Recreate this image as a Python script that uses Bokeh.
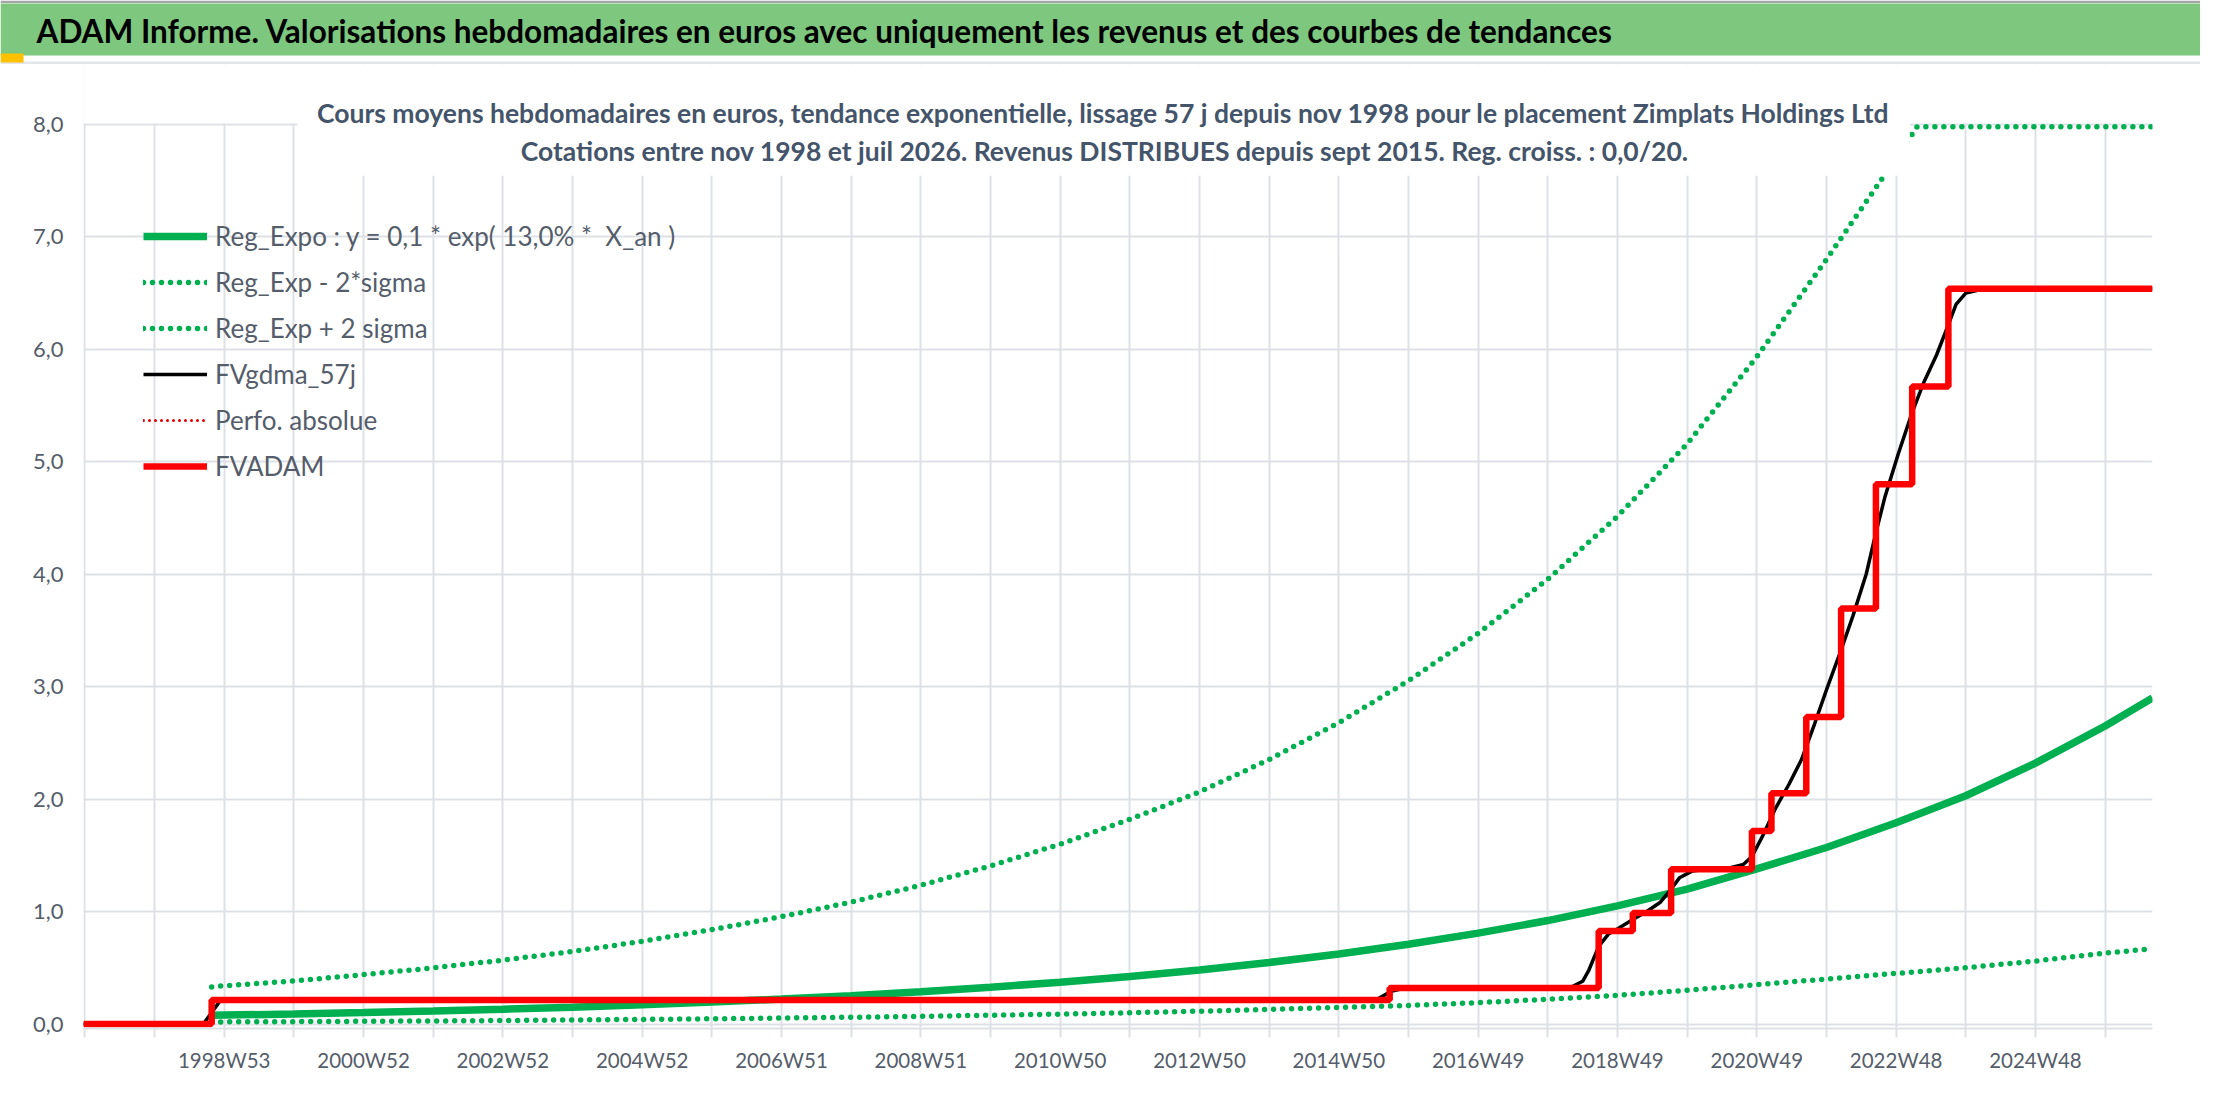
from bokeh.plotting import figure
from bokeh.layouts import column
from bokeh.models import Range1d, FixedTicker, Legend, LegendItem, Label, BoxAnnotation
from bokeh.embed import file_html
from bokeh.resources import INLINE

# annees decimales (courbes de regression)
annees_reg = [1998.82, 1999, 2000, 2001, 2002, 2003, 2004, 2005, 2006, 2007,
              2008, 2009, 2010, 2011, 2012, 2013, 2014, 2015, 2016, 2017,
              2018, 2019, 2020, 2021, 2022, 2023, 2024, 2025, 2026, 2026.68]
reg_expo = [0.077, 0.079, 0.089, 0.102, 0.116, 0.132, 0.150, 0.171, 0.195, 0.222,
            0.252, 0.287, 0.327, 0.372, 0.423, 0.48, 0.547, 0.623, 0.71, 0.808,
            0.92, 1.05, 1.20, 1.38, 1.57, 1.79, 2.03, 2.32, 2.65, 2.90]
reg_moins = [0.018, 0.019, 0.021, 0.024, 0.027, 0.031, 0.036, 0.041, 0.046, 0.053,
             0.06, 0.068, 0.078, 0.088, 0.10, 0.114, 0.13, 0.148, 0.165, 0.19,
             0.22, 0.255, 0.30, 0.35, 0.40, 0.45, 0.50, 0.56, 0.63, 0.67]

annees_plus = [1998.82, 1999, 2000, 2001, 2002, 2003, 2004, 2005, 2006, 2007,
               2008, 2009, 2010, 2011, 2012, 2013, 2014, 2015, 2016, 2017,
               2018, 2019, 2020, 2021, 2022, 2023, 2023.3, 2024, 2025, 2026, 2026.68]
reg_plus = [0.33, 0.34, 0.383, 0.439, 0.499, 0.568, 0.645, 0.735, 0.839, 0.955,
            1.084, 1.234, 1.406, 1.60, 1.82, 2.064, 2.352, 2.679, 3.053, 3.474,
            3.956, 4.515, 5.16, 5.934, 6.80, 7.70, 7.98, 7.98, 7.98, 7.98, 7.98]

# FVADAM : dates des paliers et niveaux
fvadam_t = [1996.98, 1998.82, 2015.73, 2018.73, 2019.22, 2019.77, 2020.93,
            2021.21, 2021.71, 2022.21, 2022.71, 2023.23, 2023.75, 2026.68]
fvadam_v = [0.0, 0.213, 0.32, 0.827, 0.987, 1.376, 1.717,
            2.053, 2.731, 3.696, 4.80, 5.669, 6.539, 6.539]

# FVgdma_57j : moyenne lissee
gdma_t = [1996.98, 1998.70, 1998.95, 2015.45, 2015.55, 2015.75, 2015.95, 2018.31,
          2018.50, 2018.59, 2018.73, 2018.87, 2019.01, 2019.22, 2019.42, 2019.61,
          2019.77, 2019.89, 2020.07, 2020.35, 2020.62, 2020.81, 2020.93, 2021.09,
          2021.27, 2021.46, 2021.64, 2021.83, 2022.01, 2022.20, 2022.38, 2022.57,
          2022.71, 2022.84, 2023.03, 2023.23, 2023.40, 2023.58, 2023.75, 2023.86,
          2024.0, 2024.23, 2026.68]
gdma_v = [0.0, 0.0, 0.213, 0.213, 0.22, 0.29, 0.32, 0.32,
          0.38, 0.48, 0.69, 0.80, 0.85, 0.93, 1.0, 1.08,
          1.2, 1.30, 1.36, 1.38, 1.39, 1.42, 1.49, 1.68,
          1.92, 2.13, 2.35, 2.67, 2.99, 3.31, 3.63, 4.0,
          4.37, 4.69, 5.07, 5.44, 5.71, 5.95, 6.22, 6.40,
          6.50, 6.535, 6.539]

# Perfo. absolue : cachee sous FVADAM
perfo_t = [1996.98, 1998.82]
perfo_v = [0.0, 0.0]

ticks_x = list(range(1997, 2027))
etiquettes_x = {1999: "1998W53", 2001: "2000W52", 2003: "2002W52", 2005: "2004W52",
                2007: "2006W51", 2009: "2008W51", 2011: "2010W50", 2013: "2012W50",
                2015: "2014W50", 2017: "2016W49", 2019: "2018W49", 2021: "2020W49",
                2023: "2022W48", 2025: "2024W48"}
ticks_y = [0, 1, 2, 3, 4, 5, 6, 7, 8]

titre = "ADAM Informe. Valorisations hebdomadaires en euros avec uniquement les revenus et des courbes de tendances"
sous_titre_1 = "Cours moyens hebdomadaires en euros, tendance exponentielle, lissage 57 j depuis nov 1998 pour le placement Zimplats Holdings Ltd"
sous_titre_2 = "Cotations entre nov 1998 et juil 2026. Revenus DISTRIBUES depuis sept 2015. Reg. croiss. : 0,0/20."

FONT = "Lato"
VERT = "#00B050"
GRIS_GRILLE = "#DDE1E6"
GRIS_TEXTE = "#555D6B"

# bandeau vert du haut (coordonnees en pixels, y vers le haut)
bandeau = figure(width=2200, height=64, output_backend="svg", toolbar_location=None,
                 x_range=Range1d(0, 2200), y_range=Range1d(0, 64),
                 x_axis_location=None, y_axis_location=None,
                 min_border=0, title=None)
bandeau.frame_align = False
bandeau.grid.visible = False
bandeau.outline_line_color = None
bandeau.background_fill_color = "white"
bandeau.border_fill_color = "white"
bandeau.add_layout(BoxAnnotation(bottom=61.5, fill_color="#A6A6A6", fill_alpha=1,
                                 line_color=None))
bandeau.add_layout(BoxAnnotation(bottom=9, top=61, fill_color="#7DC87E",
                                 fill_alpha=1, line_color=None))
bandeau.add_layout(BoxAnnotation(top=3, fill_color="#E3E5E8", fill_alpha=1,
                                 line_color=None))
bandeau.add_layout(BoxAnnotation(left=0, right=23, bottom=2, top=11,
                                 fill_color="#FFC000", fill_alpha=1, line_color=None))
bandeau.add_layout(Label(x=36, y=34, text=titre, text_align="left",
                         text_baseline="middle", text_font=FONT,
                         text_font_style="bold", text_font_size="31.5px",
                         text_color="black"))

p = figure(width=2200, height=1034, title=None, output_backend="svg",
           toolbar_location=None, x_range=Range1d(1996.98, 2026.68),
           y_range=Range1d(-0.04, 8.5336),
           min_border_left=83, min_border_right=48, min_border_top=0,
           min_border_bottom=70)
p.outline_line_color = None
p.background_fill_color = "white"
p.border_fill_color = "white"

p.xgrid.ticker = FixedTicker(ticks=ticks_x)
p.ygrid.ticker = FixedTicker(ticks=ticks_y)
p.grid.grid_line_color = GRIS_GRILLE
p.grid.grid_line_width = 2

p.xaxis.ticker = FixedTicker(ticks=ticks_x)
p.xaxis.major_label_overrides = {t: etiquettes_x.get(t, "") for t in ticks_x}
p.xaxis.axis_line_color = GRIS_GRILLE
p.xaxis.axis_line_width = 2
p.xaxis.major_tick_line_color = GRIS_GRILLE
p.xaxis.major_tick_line_width = 2
p.xaxis.major_tick_out = 9
p.xaxis.major_tick_in = 0
p.xaxis.minor_tick_line_color = None
p.xaxis.major_label_standoff = 10
p.xaxis.major_label_text_font = FONT
p.xaxis.major_label_text_font_size = "20.5px"
p.xaxis.major_label_text_color = GRIS_TEXTE

p.yaxis.ticker = FixedTicker(ticks=ticks_y)
p.yaxis.major_label_overrides = {v: f"{v},0" for v in ticks_y}
p.yaxis.axis_line_color = None
p.yaxis.major_tick_line_color = None
p.yaxis.minor_tick_line_color = None
p.yaxis.major_tick_out = 0
p.yaxis.major_label_standoff = 20
p.yaxis.major_label_text_font = FONT
p.yaxis.major_label_text_font_size = "22px"
p.yaxis.major_label_text_color = GRIS_TEXTE

r_expo = p.line(annees_reg, reg_expo, line_color=VERT, line_width=7.5)
r_moins = p.line(annees_reg, reg_moins, line_color=VERT, line_width=5.5,
                 line_dash="0 9", line_cap="round")
r_plus = p.line(annees_plus, reg_plus, line_color=VERT, line_width=5.5,
                line_dash="0 9", line_cap="round")
r_gdma = p.line(gdma_t, gdma_v, line_color="black", line_width=3.5)
r_perfo = p.line(perfo_t, perfo_v, line_color="#E00000", line_width=3,
                 line_dash="0 6", line_cap="round")
r_fvadam = p.step(fvadam_t, fvadam_v, mode="after", line_color="#FF0000",
                  line_width=6.5)

legend = Legend(items=[
    LegendItem(label="Reg_Expo : y = 0,1 * exp( 13,0% *  X_an )", renderers=[r_expo]),
    LegendItem(label="Reg_Exp - 2*sigma", renderers=[r_moins]),
    LegendItem(label="Reg_Exp + 2 sigma", renderers=[r_plus]),
    LegendItem(label="FVgdma_57j", renderers=[r_gdma]),
    LegendItem(label="Perfo. absolue", renderers=[r_perfo]),
    LegendItem(label="FVADAM", renderers=[r_fvadam]),
], location=(55, 537))
legend.glyph_width = 64
legend.glyph_height = 40
legend.label_height = 40
legend.spacing = 6
legend.label_standoff = 8
legend.padding = 5
legend.margin = 0
legend.background_fill_alpha = 0
legend.border_line_alpha = 0
legend.label_text_font = FONT
legend.label_text_font_size = "26px"
legend.label_text_color = GRIS_TEXTE
p.add_layout(legend, "center")

# pas de grille au-dessus de 8,0
p.add_layout(BoxAnnotation(bottom=8.012, fill_color="white", fill_alpha=1,
                           line_color=None))
# cadre blanc du titre du graphique
p.add_layout(BoxAnnotation(left=2000.05, right=2023.196, bottom=7.545,
                           fill_color="white", fill_alpha=1, line_color=None))
p.add_layout(Label(x=2011.62, y=8.105, text=sous_titre_1, text_align="center",
                   text_baseline="middle", text_font=FONT, text_font_style="bold",
                   text_font_size="26.5px", text_color="#44546A"))
p.add_layout(Label(x=2011.64, y=7.767, text=sous_titre_2, text_align="center",
                   text_baseline="middle", text_font=FONT, text_font_style="bold",
                   text_font_size="26.5px", text_color="#44546A"))

open("out.html", "w").write(file_html(column(bandeau, p, spacing=0), INLINE))
